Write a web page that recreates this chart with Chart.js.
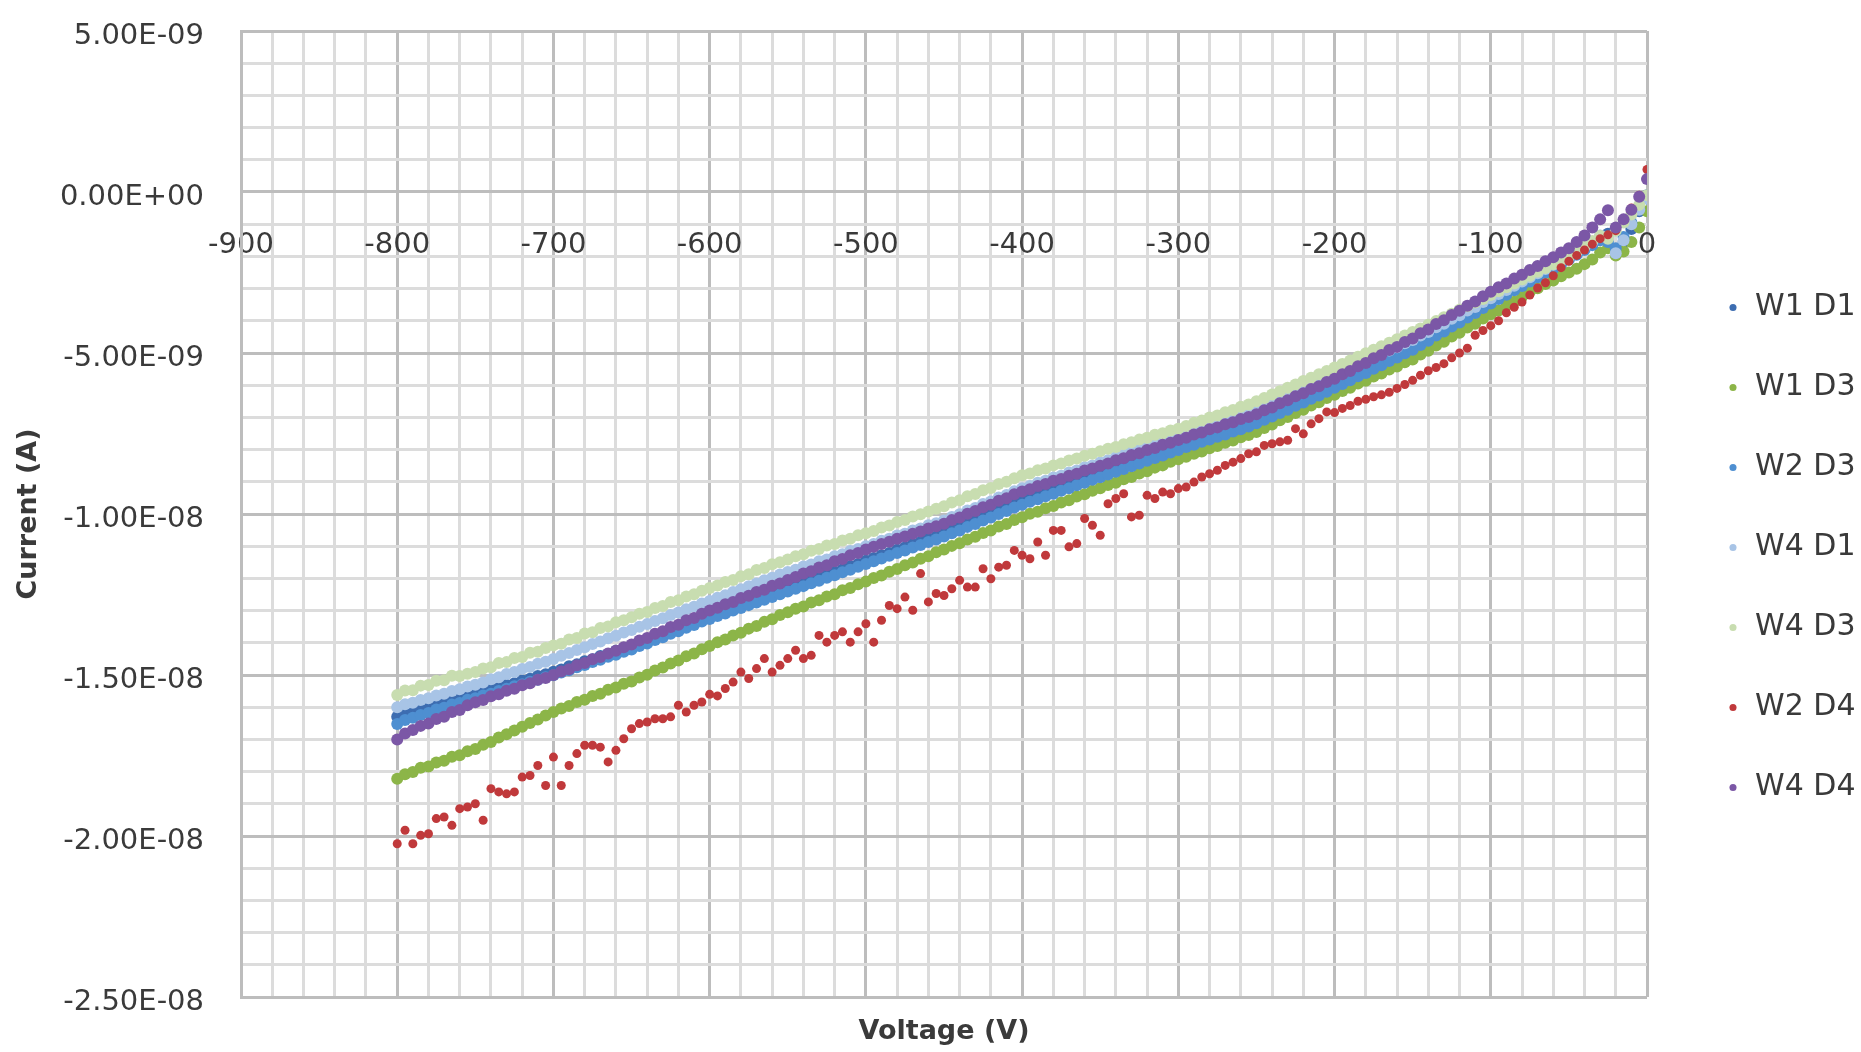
<!DOCTYPE html>
<html>
<head>
<meta charset="utf-8">
<title>I-V curves</title>
<script src="https://cdn.jsdelivr.net/npm/chart.js@4.4.1/dist/chart.umd.min.js"></script>
<style>
  html, body { margin: 0; padding: 0; background: #ffffff; }
  #wrap { width: 1861px; height: 1052px; position: relative; }
</style>
</head>
<body>
<div id="wrap"><canvas id="ivChart"></canvas></div>
<script>
// --- data (current in nA) ---
const VOLTS = [
  -800,-795,-790,-785,-780,-775,-770,-765,-760,-755,
  -750,-745,-740,-735,-730,-725,-720,-715,-710,-705,
  -700,-695,-690,-685,-680,-675,-670,-665,-660,-655,
  -650,-645,-640,-635,-630,-625,-620,-615,-610,-605,
  -600,-595,-590,-585,-580,-575,-570,-565,-560,-555,
  -550,-545,-540,-535,-530,-525,-520,-515,-510,-505,
  -500,-495,-490,-485,-480,-475,-470,-465,-460,-455,
  -450,-445,-440,-435,-430,-425,-420,-415,-410,-405,
  -400,-395,-390,-385,-380,-375,-370,-365,-360,-355,
  -350,-345,-340,-335,-330,-325,-320,-315,-310,-305,
  -300,-295,-290,-285,-280,-275,-270,-265,-260,-255,
  -250,-245,-240,-235,-230,-225,-220,-215,-210,-205,
  -200,-195,-190,-185,-180,-175,-170,-165,-160,-155,
  -150,-145,-140,-135,-130,-125,-120,-115,-110,-105,
  -100,-95,-90,-85,-80,-75,-70,-65,-60,-55,
  -50,-45,-40,-35,-30,-25,-20,-15,-10,-5,
  0
];

const SERIES_NAMES = ['W1 D1', 'W1 D3', 'W2 D3', 'W4 D1', 'W4 D3', 'W2 D4', 'W4 D4'];
const SERIES_COLORS = ['#3d6db1', '#8cb548', '#4e8fd1', '#a8c4e6', '#c8ddb0', '#c0393b', '#7b57a6'];

const W1D1 = [
  -16.30,-16.21,-16.17,-16.07,-16.03,-15.93,-15.88,-15.80,-15.74,-15.66,
  -15.60,-15.54,-15.45,-15.40,-15.31,-15.26,-15.17,-15.12,-15.03,-14.98,
  -14.90,-14.83,-14.73,-14.67,-14.57,-14.51,-14.41,-14.35,-14.25,-14.19,
  -14.10,-13.99,-13.92,-13.80,-13.73,-13.61,-13.54,-13.42,-13.35,-13.24,
  -13.15,-13.07,-12.98,-12.91,-12.81,-12.74,-12.64,-12.57,-12.47,-12.40,
  -12.30,-12.22,-12.13,-12.06,-11.96,-11.89,-11.79,-11.72,-11.62,-11.55,
  -11.45,-11.37,-11.28,-11.21,-11.11,-11.04,-10.94,-10.87,-10.77,-10.70,
  -10.60,-10.49,-10.41,-10.29,-10.21,-10.09,-10.01,-9.89,-9.81,-9.69,
  -9.60,-9.52,-9.43,-9.36,-9.26,-9.19,-9.09,-9.02,-8.92,-8.85,
  -8.75,-8.67,-8.58,-8.51,-8.41,-8.34,-8.24,-8.17,-8.07,-8.00,
  -7.90,-7.83,-7.73,-7.67,-7.57,-7.51,-7.41,-7.35,-7.25,-7.19,
  -7.10,-6.98,-6.89,-6.76,-6.67,-6.54,-6.45,-6.32,-6.23,-6.10,
  -6.00,-5.87,-5.78,-5.64,-5.55,-5.41,-5.32,-5.18,-5.09,-4.95,
  -4.85,-4.69,-4.57,-4.40,-4.28,-4.12,-3.99,-3.83,-3.70,-3.54,
  -3.40,-3.26,-3.14,-2.99,-2.87,-2.72,-2.60,-2.45,-2.33,-2.18,
  -2.05,-1.90,-1.75,-1.58,-1.40,-1.30,-1.80,-1.55,-1.15,-0.60,
  -0.10
];

const W1D3 = [
  -18.22,-18.08,-18.01,-17.88,-17.84,-17.72,-17.66,-17.54,-17.49,-17.37,
  -17.30,-17.17,-17.08,-16.94,-16.84,-16.72,-16.61,-16.49,-16.38,-16.26,
  -16.15,-16.04,-15.96,-15.84,-15.77,-15.65,-15.58,-15.46,-15.39,-15.27,
  -15.20,-15.08,-14.99,-14.86,-14.77,-14.64,-14.55,-14.42,-14.33,-14.20,
  -14.10,-13.98,-13.90,-13.77,-13.69,-13.56,-13.48,-13.35,-13.27,-13.14,
  -13.05,-12.94,-12.87,-12.75,-12.68,-12.56,-12.49,-12.37,-12.30,-12.18,
  -12.10,-11.99,-11.91,-11.79,-11.71,-11.59,-11.51,-11.39,-11.31,-11.19,
  -11.10,-10.99,-10.91,-10.79,-10.71,-10.59,-10.51,-10.39,-10.31,-10.19,
  -10.10,-9.99,-9.93,-9.82,-9.75,-9.64,-9.57,-9.46,-9.39,-9.28,
  -9.20,-9.10,-9.03,-8.92,-8.85,-8.74,-8.67,-8.56,-8.49,-8.38,
  -8.30,-8.22,-8.13,-8.06,-7.96,-7.89,-7.79,-7.72,-7.62,-7.55,
  -7.45,-7.33,-7.22,-7.09,-6.99,-6.86,-6.76,-6.63,-6.53,-6.40,
  -6.30,-6.18,-6.08,-5.95,-5.86,-5.73,-5.64,-5.51,-5.42,-5.29,
  -5.20,-5.05,-4.93,-4.77,-4.65,-4.49,-4.37,-4.21,-4.09,-3.93,
  -3.80,-3.68,-3.52,-3.41,-3.25,-3.10,-2.99,-2.86,-2.75,-2.62,
  -2.50,-2.38,-2.24,-2.10,-1.88,-1.75,-1.97,-1.85,-1.55,-1.10,
  -0.60
];

const W2D3 = [
  -16.52,-16.40,-16.33,-16.24,-16.18,-16.07,-16.02,-15.92,-15.87,-15.77,
  -15.72,-15.64,-15.58,-15.50,-15.43,-15.35,-15.29,-15.21,-15.15,-15.07,
  -15.01,-14.92,-14.85,-14.76,-14.69,-14.60,-14.53,-14.43,-14.37,-14.28,
  -14.21,-14.10,-14.02,-13.91,-13.83,-13.72,-13.64,-13.53,-13.45,-13.34,
  -13.26,-13.17,-13.09,-13.00,-12.92,-12.83,-12.75,-12.66,-12.58,-12.49,
  -12.41,-12.32,-12.24,-12.15,-12.07,-11.98,-11.90,-11.81,-11.73,-11.64,
  -11.55,-11.47,-11.38,-11.30,-11.21,-11.13,-11.04,-10.96,-10.87,-10.79,
  -10.70,-10.60,-10.51,-10.40,-10.31,-10.20,-10.11,-10.00,-9.91,-9.80,
  -9.71,-9.62,-9.54,-9.45,-9.37,-9.28,-9.20,-9.11,-9.03,-8.94,
  -8.86,-8.77,-8.69,-8.60,-8.52,-8.43,-8.35,-8.26,-8.18,-8.09,
  -8.01,-7.92,-7.85,-7.76,-7.69,-7.60,-7.53,-7.44,-7.37,-7.28,
  -7.18,-7.07,-6.97,-6.86,-6.76,-6.64,-6.54,-6.42,-6.32,-6.20,
  -6.08,-5.96,-5.85,-5.72,-5.62,-5.49,-5.38,-5.25,-5.14,-5.01,
  -4.90,-4.75,-4.62,-4.46,-4.33,-4.18,-4.05,-3.90,-3.76,-3.60,
  -3.46,-3.32,-3.19,-3.05,-2.92,-2.78,-2.65,-2.51,-2.38,-2.24,
  -2.10,-1.95,-1.80,-1.65,-1.50,-1.55,-1.75,-1.40,-0.95,-0.50,
  -0.20
];

const W4D1 = [
  -16.00,-15.91,-15.86,-15.78,-15.72,-15.64,-15.58,-15.50,-15.44,-15.36,
  -15.30,-15.23,-15.13,-15.07,-14.97,-14.91,-14.81,-14.75,-14.65,-14.59,
  -14.50,-14.40,-14.32,-14.22,-14.14,-14.04,-13.96,-13.86,-13.78,-13.68,
  -13.60,-13.50,-13.42,-13.32,-13.24,-13.14,-13.06,-12.96,-12.88,-12.78,
  -12.70,-12.60,-12.52,-12.42,-12.34,-12.24,-12.16,-12.06,-11.98,-11.88,
  -11.80,-11.73,-11.63,-11.57,-11.47,-11.41,-11.31,-11.25,-11.15,-11.09,
  -11.00,-10.93,-10.83,-10.77,-10.67,-10.61,-10.51,-10.45,-10.35,-10.29,
  -10.20,-10.09,-10.01,-9.89,-9.81,-9.69,-9.61,-9.49,-9.41,-9.29,
  -9.20,-9.13,-9.03,-8.97,-8.87,-8.81,-8.71,-8.65,-8.55,-8.49,
  -8.40,-8.33,-8.23,-8.17,-8.07,-8.01,-7.91,-7.85,-7.75,-7.69,
  -7.60,-7.53,-7.43,-7.37,-7.27,-7.21,-7.11,-7.05,-6.95,-6.89,
  -6.80,-6.68,-6.59,-6.46,-6.37,-6.24,-6.15,-6.02,-5.93,-5.80,
  -5.70,-5.58,-5.48,-5.36,-5.26,-5.14,-5.04,-4.92,-4.82,-4.70,
  -4.60,-4.46,-4.35,-4.20,-4.09,-3.94,-3.83,-3.68,-3.57,-3.42,
  -3.30,-3.17,-3.04,-2.91,-2.78,-2.65,-2.52,-2.39,-2.26,-2.13,
  -2.00,-1.86,-1.71,-1.55,-1.35,-1.40,-1.90,-1.50,-1.00,-0.55,
  -0.20
];

const W4D3 = [
  -15.62,-15.48,-15.47,-15.33,-15.31,-15.18,-15.16,-15.02,-15.03,-14.96,
  -14.91,-14.80,-14.76,-14.63,-14.60,-14.47,-14.44,-14.31,-14.28,-14.16,
  -14.08,-14.03,-13.90,-13.85,-13.71,-13.67,-13.54,-13.49,-13.36,-13.30,
  -13.21,-13.10,-13.04,-12.92,-12.86,-12.73,-12.68,-12.56,-12.49,-12.38,
  -12.30,-12.22,-12.11,-12.05,-11.93,-11.87,-11.74,-11.68,-11.56,-11.50,
  -11.41,-11.31,-11.25,-11.14,-11.09,-10.98,-10.93,-10.82,-10.77,-10.66,
  -10.60,-10.53,-10.42,-10.36,-10.25,-10.19,-10.08,-10.01,-9.92,-9.84,
  -9.76,-9.64,-9.57,-9.45,-9.38,-9.26,-9.19,-9.07,-9.00,-8.89,
  -8.80,-8.74,-8.64,-8.59,-8.49,-8.43,-8.34,-8.28,-8.19,-8.13,
  -8.05,-7.97,-7.92,-7.83,-7.77,-7.69,-7.63,-7.54,-7.49,-7.41,
  -7.35,-7.27,-7.17,-7.10,-7.00,-6.94,-6.84,-6.77,-6.67,-6.60,
  -6.50,-6.40,-6.29,-6.19,-6.08,-5.98,-5.87,-5.77,-5.66,-5.56,
  -5.45,-5.34,-5.23,-5.12,-5.01,-4.90,-4.79,-4.68,-4.57,-4.46,
  -4.35,-4.24,-4.12,-4.01,-3.89,-3.78,-3.66,-3.55,-3.43,-3.32,
  -3.20,-3.08,-2.96,-2.84,-2.72,-2.60,-2.48,-2.36,-2.24,-2.12,
  -2.00,-1.85,-1.68,-1.52,-1.36,-1.45,-1.20,-0.95,-0.70,-0.40,
  -0.10
];

const W2D4 = [
  -20.24,-19.82,-20.24,-19.98,-19.93,-19.46,-19.41,-19.67,-19.15,-19.10,
  -19.00,-19.51,-18.53,-18.63,-18.69,-18.63,-18.17,-18.12,-17.81,-18.43,
  -17.55,-18.43,-17.81,-17.44,-17.18,-17.18,-17.24,-17.70,-17.34,-16.98,
  -16.67,-16.51,-16.46,-16.36,-16.36,-16.30,-15.94,-16.15,-15.94,-15.84,
  -15.60,-15.65,-15.42,-15.22,-14.91,-15.11,-14.80,-14.49,-14.91,-14.70,
  -14.49,-14.23,-14.49,-14.39,-13.77,-13.98,-13.77,-13.66,-13.98,-13.66,
  -13.41,-13.98,-13.30,-12.84,-12.94,-12.58,-12.99,-11.85,-12.73,-12.47,
  -12.53,-12.32,-12.06,-12.27,-12.27,-11.70,-12.01,-11.65,-11.59,-11.13,
  -11.28,-11.39,-10.87,-11.28,-10.51,-10.51,-11.02,-10.92,-10.14,-10.35,
  -10.66,-9.68,-9.52,-9.37,-10.09,-10.04,-9.42,-9.52,-9.32,-9.37,
  -9.21,-9.16,-9.01,-8.85,-8.75,-8.64,-8.49,-8.39,-8.28,-8.13,
  -8.07,-7.87,-7.82,-7.76,-7.71,-7.35,-7.51,-7.20,-7.04,-6.83,
  -6.85,-6.72,-6.63,-6.50,-6.44,-6.36,-6.30,-6.22,-6.10,-5.98,
  -5.85,-5.69,-5.55,-5.45,-5.33,-5.15,-5.00,-4.85,-4.45,-4.30,
  -4.15,-4.00,-3.75,-3.58,-3.42,-3.20,-2.98,-2.82,-2.60,-2.35,
  -2.15,-1.97,-1.80,-1.62,-1.45,-1.33,-1.20,-0.85,-0.50,-0.10,
  0.70
];

const W4D4 = [
  -17.00,-16.82,-16.71,-16.58,-16.51,-16.37,-16.30,-16.15,-16.09,-15.94,
  -15.85,-15.78,-15.66,-15.60,-15.49,-15.43,-15.32,-15.26,-15.15,-15.09,
  -15.00,-14.89,-14.82,-14.70,-14.63,-14.51,-14.44,-14.33,-14.25,-14.14,
  -14.05,-13.93,-13.85,-13.72,-13.64,-13.51,-13.44,-13.30,-13.23,-13.10,
  -13.00,-12.91,-12.80,-12.73,-12.61,-12.54,-12.42,-12.35,-12.23,-12.16,
  -12.05,-11.96,-11.85,-11.78,-11.66,-11.59,-11.47,-11.40,-11.28,-11.21,
  -11.10,-11.02,-10.93,-10.86,-10.77,-10.70,-10.61,-10.54,-10.45,-10.38,
  -10.30,-10.19,-10.11,-9.99,-9.91,-9.79,-9.71,-9.59,-9.51,-9.39,
  -9.30,-9.23,-9.13,-9.07,-8.97,-8.91,-8.81,-8.75,-8.65,-8.59,
  -8.50,-8.43,-8.33,-8.27,-8.17,-8.11,-8.01,-7.95,-7.85,-7.79,
  -7.70,-7.63,-7.53,-7.47,-7.37,-7.31,-7.21,-7.15,-7.05,-6.99,
  -6.90,-6.78,-6.69,-6.56,-6.47,-6.34,-6.25,-6.12,-6.03,-5.90,
  -5.80,-5.66,-5.56,-5.41,-5.31,-5.16,-5.06,-4.91,-4.81,-4.66,
  -4.55,-4.39,-4.27,-4.10,-3.98,-3.82,-3.69,-3.53,-3.40,-3.24,
  -3.10,-2.96,-2.84,-2.69,-2.57,-2.42,-2.30,-2.15,-2.03,-1.88,
  -1.75,-1.55,-1.35,-1.10,-0.85,-0.57,-1.10,-0.85,-0.55,-0.15,
  0.40
];

const SERIES_VALUES = [W1D1, W1D3, W2D3, W4D1, W4D3, W2D4, W4D4];

const X_MIN = -900, X_MAX = 0;
const Y_MIN = -25, Y_MAX = 5;   // nA

// --- styles ---
const FONT = '"DejaVu Sans", Verdana, sans-serif';
const GRID_MINOR = '#dcdcdc';
const GRID_MAJOR = '#bdbdbd';
const TEXT = '#3a3a3a';

// 5 nA -> "5.00E-09"
function ampLabel(v) {
  const s = (v * 1e-9).toExponential(2).toUpperCase();
  return s.replace(/E([+-])(\d)$/, (m, sign, d) => 'E' + sign + '0' + d);
}

const datasets = SERIES_NAMES.map((name, i) => ({
  label: name,
  data: VOLTS.map((v, k) => ({ x: v, y: SERIES_VALUES[i][k] })),
  backgroundColor: SERIES_COLORS[i],
  borderColor: SERIES_COLORS[i],
  pointRadius: name === 'W2 D4' ? 4.5 : 6,
  pointHoverRadius: 6,
  pointBorderWidth: 0,
  borderWidth: 0,
  pointStyle: 'circle',
  showLine: false,
  order: SERIES_NAMES.length - i   // last series drawn on top, like Excel
}));

const ctx = document.getElementById('ivChart').getContext('2d');
const chart = new Chart(ctx, {
  type: 'scatter',
  data: { datasets },
  options: {
    responsive: true,
    maintainAspectRatio: false,
    animation: false,
    layout: { padding: { top: 31, right: 0, bottom: 0, left: 0 } },
    plugins: {
      tooltip: { enabled: false },
      legend: {
        position: 'right',
        maxWidth: 185,
        // blank title only nudges the entries down a little
        title: { display: true, text: ' ', padding: 0, font: { family: FONT, size: 10 } },
        labels: {
          usePointStyle: true,
          boxWidth: 14,
          boxHeight: 5,
          padding: 50,
          color: TEXT,
          font: { family: FONT, size: 30 },
          sort: (a, b) => a.datasetIndex - b.datasetIndex
        }
      }
    },
    scales: {
      x: {
        type: 'linear',
        min: X_MIN, max: X_MAX,
        position: { y: 0 },
        afterFit: s => { s.paddingLeft = 0; s.paddingRight = 0; },
        grid: {
          color: c => (Math.round(c.tick.value) % 100 === 0 ? GRID_MAJOR : GRID_MINOR),
          lineWidth: 3,
          drawTicks: false
        },
        border: { color: GRID_MAJOR, width: 3 },
        ticks: {
          stepSize: 20,
          autoSkip: false,
          maxRotation: 0,
          padding: 36,
          color: TEXT,
          font: { family: FONT, size: 29 },
          callback: v => (Math.round(v) % 100 === 0 ? String(Math.round(v)) : '')
        }
      },
      xTitle: {
        type: 'linear',
        display: true,
        position: 'bottom',
        min: X_MIN, max: X_MAX,
        afterFit: s => { s.height = 55; s.paddingLeft = 0; s.paddingRight = 0; },
        grid: { display: false, drawTicks: false },
        border: { display: false },
        ticks: { display: false },
        title: {
          display: true,
          text: 'Voltage (V)',
          color: TEXT,
          font: { family: FONT, size: 27, weight: 'bold' },
          padding: { top: 16, bottom: 4 }
        }
      },
      y: {
        type: 'linear',
        min: Y_MIN, max: Y_MAX,
        afterFit: s => { s.width = 241; s.paddingTop = 0; s.paddingBottom = 0; },
        grid: {
          color: c => (Math.round(c.tick.value) % 5 === 0 ? GRID_MAJOR : GRID_MINOR),
          lineWidth: 3,
          drawTicks: false
        },
        border: { color: GRID_MAJOR, width: 3 },
        ticks: {
          stepSize: 1,
          autoSkip: false,
          padding: 37,
          labelOffset: 5,
          color: TEXT,
          font: { family: FONT, size: 29 },
          callback: v => (Math.round(v) % 5 === 0 ? ampLabel(v) : '')
        },
        title: {
          display: true,
          text: 'Current (A)',
          color: TEXT,
          font: { family: FONT, size: 27, weight: 'bold' },
          padding: { top: 13, bottom: 0 }
        }
      },
      // empty axis: keeps a gap between the plot and the legend
      yGap: {
        type: 'linear',
        display: true,
        position: 'right',
        afterFit: s => { s.width = 29; s.paddingTop = 0; s.paddingBottom = 0; },
        grid: { display: false, drawTicks: false },
        border: { display: false },
        ticks: { display: false }
      }
    }
  }
});
</script>
</body>
</html>
